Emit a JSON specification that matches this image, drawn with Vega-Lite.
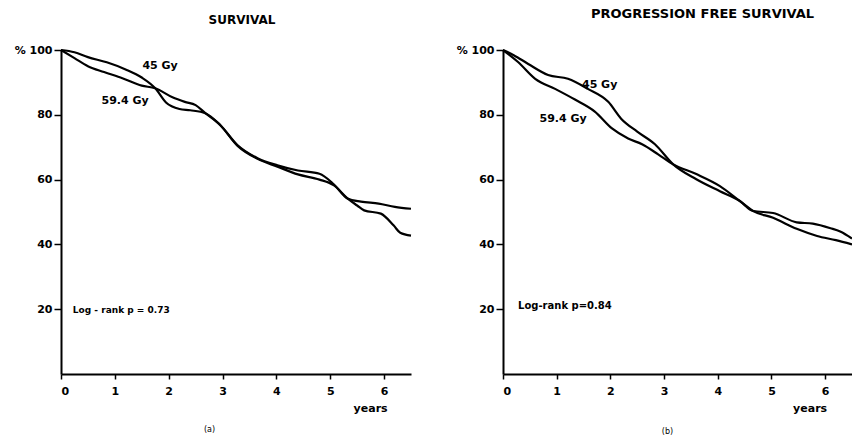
{
  "$schema": "https://vega.github.io/schema/vega-lite/v6.json",
  "background": "white",
  "padding": {"left": 10, "top": 8, "right": 0, "bottom": 0},
  "spacing": 92,
  "bounds": "flush",
  "config": {
    "font": "DejaVu Sans",
    "view": {"stroke": null},
    "axis": {
      "grid": false,
      "domainColor": "black",
      "domainWidth": 2,
      "tickColor": "black",
      "tickWidth": 1.5,
      "labelColor": "black",
      "labelFont": "DejaVu Sans",
      "labelFontWeight": "bold",
      "labelFontSize": 11,
      "titleColor": "black",
      "titleFont": "DejaVu Sans",
      "titleFontWeight": "normal",
      "titleFontSize": 8
    },
    "title": {"font": "DejaVu Sans", "fontSize": 12, "fontWeight": "bold", "color": "black"},
    "text": {"font": "DejaVu Sans", "color": "black"}
  },
  "datasets": {
    "overall": [
      {"t": 0, "v": 100, "dose": "45 Gy"},
      {"t": 0.25, "v": 99.3, "dose": "45 Gy"},
      {"t": 0.5, "v": 97.8, "dose": "45 Gy"},
      {"t": 0.85, "v": 96.2, "dose": "45 Gy"},
      {"t": 1.2, "v": 94, "dose": "45 Gy"},
      {"t": 1.5, "v": 91.5, "dose": "45 Gy"},
      {"t": 1.75, "v": 88.2, "dose": "45 Gy"},
      {"t": 1.95, "v": 83.8, "dose": "45 Gy"},
      {"t": 2.2, "v": 81.8, "dose": "45 Gy"},
      {"t": 2.4, "v": 81.4, "dose": "45 Gy"},
      {"t": 2.68, "v": 80.5, "dose": "45 Gy"},
      {"t": 2.96, "v": 76.8, "dose": "45 Gy"},
      {"t": 3.28, "v": 70.6, "dose": "45 Gy"},
      {"t": 3.65, "v": 66.6, "dose": "45 Gy"},
      {"t": 4.02, "v": 64.4, "dose": "45 Gy"},
      {"t": 4.4, "v": 62.8, "dose": "45 Gy"},
      {"t": 4.8, "v": 61.8, "dose": "45 Gy"},
      {"t": 5.07, "v": 58.5, "dose": "45 Gy"},
      {"t": 5.32, "v": 54.2, "dose": "45 Gy"},
      {"t": 5.57, "v": 53.2, "dose": "45 Gy"},
      {"t": 5.9, "v": 52.6, "dose": "45 Gy"},
      {"t": 6.2, "v": 51.6, "dose": "45 Gy"},
      {"t": 6.5, "v": 51, "dose": "45 Gy"},
      {"t": 0, "v": 100, "dose": "59.4 Gy"},
      {"t": 0.25, "v": 97.5, "dose": "59.4 Gy"},
      {"t": 0.5, "v": 95, "dose": "59.4 Gy"},
      {"t": 0.8, "v": 93.2, "dose": "59.4 Gy"},
      {"t": 1.14, "v": 91.3, "dose": "59.4 Gy"},
      {"t": 1.5, "v": 89, "dose": "59.4 Gy"},
      {"t": 1.75, "v": 88.2, "dose": "59.4 Gy"},
      {"t": 2.07, "v": 85.4, "dose": "59.4 Gy"},
      {"t": 2.3, "v": 84, "dose": "59.4 Gy"},
      {"t": 2.5, "v": 83, "dose": "59.4 Gy"},
      {"t": 2.68, "v": 80.5, "dose": "59.4 Gy"},
      {"t": 2.96, "v": 76.8, "dose": "59.4 Gy"},
      {"t": 3.28, "v": 70.4, "dose": "59.4 Gy"},
      {"t": 3.65, "v": 66.4, "dose": "59.4 Gy"},
      {"t": 4.02, "v": 64, "dose": "59.4 Gy"},
      {"t": 4.4, "v": 61.6, "dose": "59.4 Gy"},
      {"t": 4.8, "v": 60, "dose": "59.4 Gy"},
      {"t": 5.07, "v": 58.2, "dose": "59.4 Gy"},
      {"t": 5.32, "v": 54.2, "dose": "59.4 Gy"},
      {"t": 5.5, "v": 52, "dose": "59.4 Gy"},
      {"t": 5.63, "v": 50.5, "dose": "59.4 Gy"},
      {"t": 5.94, "v": 49.5, "dose": "59.4 Gy"},
      {"t": 6.18, "v": 45.8, "dose": "59.4 Gy"},
      {"t": 6.3, "v": 43.6, "dose": "59.4 Gy"},
      {"t": 6.5, "v": 42.7, "dose": "59.4 Gy"}
    ],
    "progressionFree": [
      {"t": 0, "v": 100, "dose": "45 Gy"},
      {"t": 0.2, "v": 98.4, "dose": "45 Gy"},
      {"t": 0.47, "v": 95.7, "dose": "45 Gy"},
      {"t": 0.84, "v": 92.3, "dose": "45 Gy"},
      {"t": 1.21, "v": 91.1, "dose": "45 Gy"},
      {"t": 1.58, "v": 88, "dose": "45 Gy"},
      {"t": 1.96, "v": 84, "dose": "45 Gy"},
      {"t": 2.2, "v": 78.8, "dose": "45 Gy"},
      {"t": 2.5, "v": 74.8, "dose": "45 Gy"},
      {"t": 2.83, "v": 70.9, "dose": "45 Gy"},
      {"t": 3.17, "v": 64.7, "dose": "45 Gy"},
      {"t": 3.6, "v": 60.1, "dose": "45 Gy"},
      {"t": 4.04, "v": 56.4, "dose": "45 Gy"},
      {"t": 4.41, "v": 53.4, "dose": "45 Gy"},
      {"t": 4.66, "v": 50.3, "dose": "45 Gy"},
      {"t": 5.03, "v": 49.7, "dose": "45 Gy"},
      {"t": 5.47, "v": 46.8, "dose": "45 Gy"},
      {"t": 5.77, "v": 46.4, "dose": "45 Gy"},
      {"t": 6.1, "v": 45, "dose": "45 Gy"},
      {"t": 6.28, "v": 44, "dose": "45 Gy"},
      {"t": 6.5, "v": 41.8, "dose": "45 Gy"},
      {"t": 0, "v": 100, "dose": "59.4 Gy"},
      {"t": 0.28, "v": 96.3, "dose": "59.4 Gy"},
      {"t": 0.6, "v": 91.1, "dose": "59.4 Gy"},
      {"t": 0.97, "v": 88, "dose": "59.4 Gy"},
      {"t": 1.34, "v": 84.7, "dose": "59.4 Gy"},
      {"t": 1.71, "v": 81, "dose": "59.4 Gy"},
      {"t": 2.03, "v": 75.8, "dose": "59.4 Gy"},
      {"t": 2.33, "v": 72.7, "dose": "59.4 Gy"},
      {"t": 2.59, "v": 70.9, "dose": "59.4 Gy"},
      {"t": 2.89, "v": 67.8, "dose": "59.4 Gy"},
      {"t": 3.17, "v": 64.7, "dose": "59.4 Gy"},
      {"t": 3.6, "v": 61.7, "dose": "59.4 Gy"},
      {"t": 4.04, "v": 58, "dose": "59.4 Gy"},
      {"t": 4.41, "v": 53.4, "dose": "59.4 Gy"},
      {"t": 4.66, "v": 50.3, "dose": "59.4 Gy"},
      {"t": 5.03, "v": 48.2, "dose": "59.4 Gy"},
      {"t": 5.47, "v": 44.8, "dose": "59.4 Gy"},
      {"t": 5.85, "v": 42.6, "dose": "59.4 Gy"},
      {"t": 6.2, "v": 41.3, "dose": "59.4 Gy"},
      {"t": 6.5, "v": 40, "dose": "59.4 Gy"}
    ],
    "single": [{}]
  },
  "hconcat": [
    {
      "title": {"text": "SURVIVAL", "dx": 6, "offset": 17},
      "width": 350,
      "height": 324,
      "layer": [
        {
          "data": {"name": "overall"},
          "mark": {"type": "line", "interpolate": "monotone", "color": "black", "strokeWidth": 2.2},
          "encoding": {
            "x": {
              "field": "t", "type": "quantitative",
              "scale": {"domain": [0, 6.5], "nice": false},
              "axis": {"values": [0, 1, 2, 3, 4, 5, 6], "format": "d", "tickSize": 5, "labelPadding": 6,
                       "title": "(a)", "titleX": 148, "titleY": 55, "titleAlign": "center", "titleBaseline": "middle"}
            },
            "y": {
              "field": "v", "type": "quantitative",
              "scale": {"domain": [0, 100], "nice": false},
              "axis": {"values": [20, 40, 60, 80, 100], "tickSize": 7, "labelPadding": 2,
                       "labelExpr": "datum.value == 100 ? '%  100' : datum.label", "title": null}
            },
            "detail": {"field": "dose"}
          }
        },
        {
          "data": {"name": "single"},
          "mark": {"type": "text", "text": "45 Gy", "fontSize": 11, "fontWeight": "bold"},
          "encoding": {"x": {"datum": 1.84}, "y": {"datum": 95}}
        },
        {
          "data": {"name": "single"},
          "mark": {"type": "text", "text": "59.4 Gy", "fontSize": 11, "fontWeight": "bold"},
          "encoding": {"x": {"datum": 1.19}, "y": {"datum": 84.2}}
        },
        {
          "data": {"name": "single"},
          "mark": {"type": "text", "text": "Log - rank p = 0.73", "fontSize": 9, "fontWeight": "bold", "align": "left"},
          "encoding": {"x": {"datum": 0.22}, "y": {"datum": 19.8}}
        },
        {
          "data": {"name": "single"},
          "mark": {"type": "text", "text": "years", "fontSize": 11, "fontWeight": "bold"},
          "encoding": {"x": {"datum": 5.75}, "y": {"datum": -10.8}}
        }
      ]
    },
    {
      "title": {"text": "PROGRESSION FREE SURVIVAL", "dx": 25, "offset": 23, "fontSize": 13},
      "width": 349,
      "height": 324,
      "layer": [
        {
          "data": {"name": "progressionFree"},
          "mark": {"type": "line", "interpolate": "monotone", "color": "black", "strokeWidth": 2.2},
          "encoding": {
            "x": {
              "field": "t", "type": "quantitative",
              "scale": {"domain": [0, 6.5], "nice": false},
              "axis": {"values": [0, 1, 2, 3, 4, 5, 6], "format": "d", "tickSize": 5, "labelPadding": 6,
                       "title": "(b)", "titleX": 164, "titleY": 57, "titleAlign": "center", "titleBaseline": "middle"}
            },
            "y": {
              "field": "v", "type": "quantitative",
              "scale": {"domain": [0, 100], "nice": false},
              "axis": {"values": [20, 40, 60, 80, 100], "tickSize": 7, "labelPadding": 2,
                       "labelExpr": "datum.value == 100 ? '%  100' : datum.label", "title": null}
            },
            "detail": {"field": "dose"}
          }
        },
        {
          "data": {"name": "single"},
          "mark": {"type": "text", "text": "45 Gy", "fontSize": 11, "fontWeight": "bold"},
          "encoding": {"x": {"datum": 1.8}, "y": {"datum": 89.3}}
        },
        {
          "data": {"name": "single"},
          "mark": {"type": "text", "text": "59.4 Gy", "fontSize": 11, "fontWeight": "bold"},
          "encoding": {"x": {"datum": 1.12}, "y": {"datum": 78.8}}
        },
        {
          "data": {"name": "single"},
          "mark": {"type": "text", "text": "Log-rank p=0.84", "fontSize": 10, "fontWeight": "bold", "align": "left"},
          "encoding": {"x": {"datum": 0.28}, "y": {"datum": 20.9}}
        },
        {
          "data": {"name": "single"},
          "mark": {"type": "text", "text": "years", "fontSize": 11, "fontWeight": "bold"},
          "encoding": {"x": {"datum": 5.72}, "y": {"datum": -10.7}}
        }
      ]
    }
  ]
}
